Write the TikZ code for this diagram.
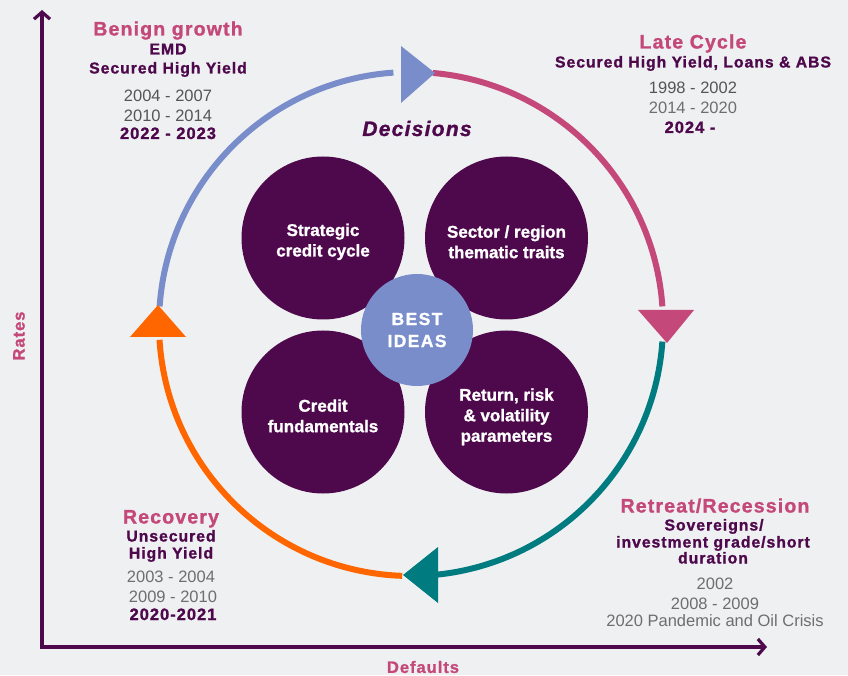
\documentclass[tikz,border=0pt]{standalone}
\usepackage{fontspec}
\setmainfont{Liberation Sans}[BoldFeatures={FakeBold=1.2}]
\newfontfamily\spacedfont{Liberation Sans}[LetterSpace=6, BoldFeatures={FakeBold=1.2}, BoldItalicFeatures={FakeBold=1.2}]
\newfontfamily\widefont{Liberation Sans}[LetterSpace=8, BoldFeatures={FakeBold=1.2}]
\usetikzlibrary{arrows.meta}

\definecolor{bggray}{HTML}{EFF0F2}
\definecolor{plum}{HTML}{4E084C}
\definecolor{rose}{HTML}{C4497A}
\definecolor{lavblue}{HTML}{7A8DCB}
\definecolor{tealc}{HTML}{007B80}
\definecolor{orangec}{HTML}{FF6600}
\definecolor{yeargray}{HTML}{555555}

\tikzset{
    phase/.style={anchor=base, text=rose,
        font=\spacedfont\bfseries\fontsize{19.5}{22}\selectfont},
    asset/.style={anchor=base, text=plum,
        font=\spacedfont\bfseries\fontsize{15.8}{18}\selectfont},
    years/.style={anchor=base, text=yeargray,
        font=\fontsize{16.5}{19}\selectfont},
    latest/.style={anchor=base, text=plum,
        font=\spacedfont\bfseries\fontsize{16.5}{19}\selectfont},
    axislabel/.style={text=rose,
        font=\spacedfont\bfseries\fontsize{16.5}{19}\selectfont},
    idea/.style={circle, fill=plum, minimum size=163pt, inner sep=0pt,
        text=white, align=center,
        font=\bfseries\fontsize{17}{20.5}\selectfont},
    cyclearc/.style={line width=6pt},
    axisline/.style={plum, line width=3.2pt,
        >={Straight Barb[length=7pt,width=16pt]}, <->},
}

\begin{document}
\begin{tikzpicture}[x=1pt, y=1pt]

\fill [bggray] (0,0) rectangle (848,675);
\useasboundingbox (0,0) rectangle (848,675);

% Axes
\coordinate (origin) at (42,28);
\coordinate (ytop) at (42,665);
\coordinate (xend) at (767,28);
\draw [axisline] (ytop) -- (origin) -- (xend);

\node (rates) [axislabel, rotate=90] at (19,339) {Rates};
\node (defaults) [axislabel] at (423,8) {Defaults};

% Cycle
\coordinate (ctr) at (411,351);
\draw [cyclearc, lavblue] (ctr) ++(176:252pt) arc[start angle=176, end angle=94, radius=252pt];
\draw [cyclearc, rose] (ctr) ++(85:252pt) arc[start angle=85, end angle=4, radius=252pt];
\draw [cyclearc, tealc] (ctr) ++(-4:252pt) arc[start angle=-4, end angle=-84, radius=252pt];
\draw [cyclearc, orangec] (ctr) ++(-92:252pt) arc[start angle=-92, end angle=-176.4, radius=252pt];

\fill [lavblue] (401,629) -- (401,572) -- (435,602) -- cycle;
\fill [rose] (638,365) -- (694,365) -- (667,332) -- cycle;
\fill [tealc] (438,128) -- (438,72) -- (403,100) -- cycle;
\fill [orangec] (130,338) -- (186,338) -- (158,370) -- cycle;

%-------------------------------------
% Ideas
\node (strategic) [idea] at (323,437) {\rule{0pt}{20pt}Strategic\\credit cycle};
\node (sector) [idea] at (506.5,437) {\rule{0pt}{20pt}Sector / region\\thematic traits};
\node (fundamentals) [idea] at (323,263) {\rule{0pt}{20pt}Credit\\fundamentals};
\node (parameters) [idea] at (506.5,263) {\rule{0pt}{22pt}Return, risk\\\& volatility\\parameters};

\node (best) [
    circle,
    fill=lavblue,
    minimum size=112pt,
    inner sep=0pt,
    text=white,
    align=center,
    font=\widefont\bfseries\fontsize{17.5}{22}\selectfont
] at (417,345) {BEST\\IDEAS};

\node (decisions) [
    anchor=base,
    text=plum,
    font=\spacedfont\bfseries\itshape\fontsize{21}{24}\selectfont
] at (417,539) {Decisions};

%-------------------------------------
% Benign growth
\node (benign) [phase] at (168,639.5) {Benign growth};
\node (benign1) [asset] at (168,620.5) {EMD};
\node (benign2) [asset] at (168,601.5) {Secured High Yield};
\node (benign3) [years] at (168,573) {2004 - 2007};
\node (benign4) [years] at (168,553) {2010 - 2014};
\node (benign5) [latest] at (168,536) {2022 - 2023};

% Late Cycle
\node (late) [phase] at (693,626.5) {Late Cycle};
\node (late1) [asset] at (693,607.5) {Secured High Yield, Loans \& ABS};
\node (late2) [years] at (693,581) {1998 - 2002};
\node (late3) [years, text=yeargray!85] at (693,561) {2014 - 2020};
\node (late4) [latest] at (690,542) {2024 -};

% Recovery
\node (recovery) [phase] at (171,151.5) {Recovery};
\node (recovery1) [asset] at (171,133.5) {Unsecured};
\node (recovery2) [asset] at (171,116.5) {High Yield};
\node (recovery3) [years, text=yeargray!85] at (171,93) {2003 - 2004};
\node (recovery4) [years, text=yeargray!85] at (173,73) {2009 - 2010};
\node (recovery5) [latest] at (173,55) {2020-2021};

% Retreat/Recession
\node (retreat) [phase] at (715,162.5) {Retreat/Recession};
\node (retreat1) [asset] at (714,144.5) {Sovereigns/};
\node (retreat2) [asset] at (713,127.5) {investment grade/short};
\node (retreat3) [asset] at (713,111.5) {duration};
\node (retreat4) [years, text=yeargray!85] at (715,86) {2002};
\node (retreat5) [years, text=yeargray!85] at (715,66) {2008 - 2009};
\node (retreat6) [years, text=yeargray!85] at (715,49) {2020 Pandemic and Oil Crisis};

\end{tikzpicture}
\end{document}
